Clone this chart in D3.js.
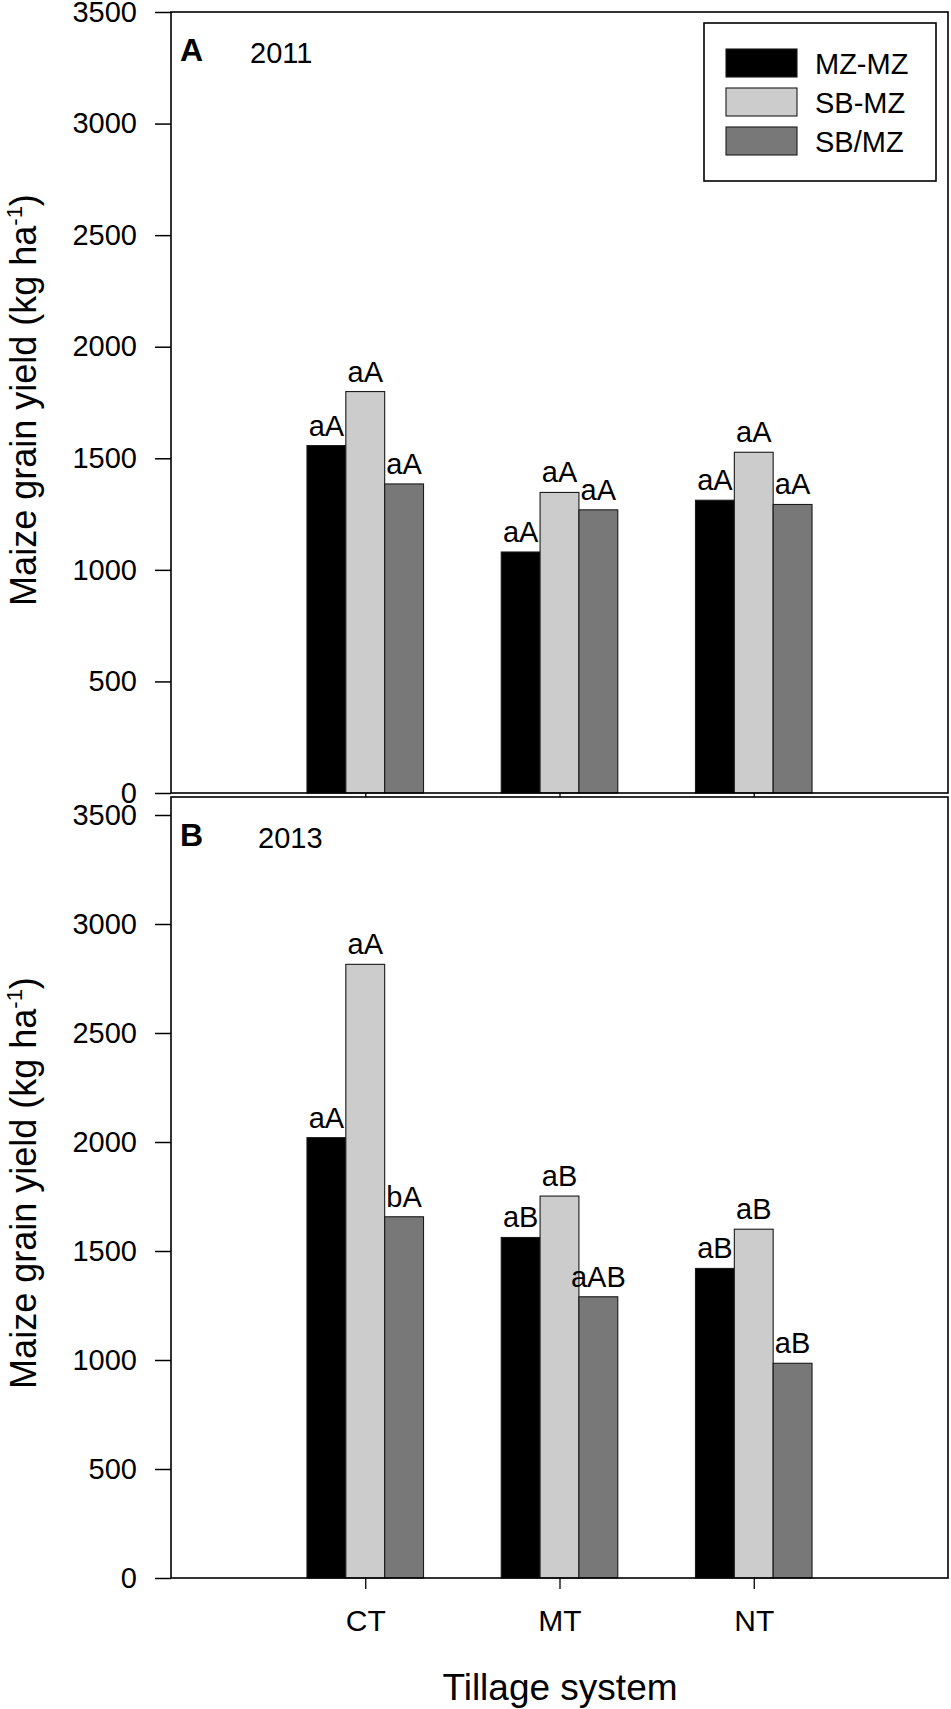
<!DOCTYPE html>
<html><head><meta charset="utf-8">
<script src="https://cdn.jsdelivr.net/npm/d3@7"></script>
<style>body{margin:0;background:#fff}svg{display:block;font-family:"Liberation Sans",Arial,Helvetica,sans-serif}</style>
</head><body><svg id="c" width="951" height="1709"></svg>
<script>
// ---- data ----
const categories = ["CT", "MT", "NT"];
const seriesNames = ["MZ-MZ", "SB-MZ", "SB/MZ"];
const seriesColors = ["#000000", "#cccccc", "#787878"];
const yTickValues = [0, 500, 1000, 1500, 2000, 2500, 3000, 3500];

const mzmz2011 = [1557, 1080, 1312];
const sbmz2011 = [1799, 1347, 1527];
const sbSlashMz2011 = [1385, 1269, 1293];
const letters2011_mzmz = ["aA", "aA", "aA"];
const letters2011_sbmz = ["aA", "aA", "aA"];
const letters2011_sbSlash = ["aA", "aA", "aA"];

const mzmz2013 = [2020, 1562, 1420];
const sbmz2013 = [2815, 1752, 1600];
const sbSlashMz2013 = [1657, 1290, 985];
const letters2013_mzmz = ["aA", "aB", "aB"];
const letters2013_sbmz = ["aA", "aB", "aB"];
const letters2013_sbSlash = ["bA", "aAB", "aB"];

// ---- layout ----
const svg = d3.select("#c");
const left = 171, right = 948;
const x = d3.scaleLinear().domain([0, 4]).range([left, right]);
const barW = x(0.2) - x(0);

const panels = [
  {letter: "A", year: "2011", frameTop: 12, yTop: 12, yBottom: 793,
   values: [mzmz2011, sbmz2011, sbSlashMz2011],
   letters: [letters2011_mzmz, letters2011_sbmz, letters2011_sbSlash],
   xLabels: false, legend: true, yearX: 250, titleY: 400},
  {letter: "B", year: "2013", frameTop: 797, yTop: 815, yBottom: 1578,
   values: [mzmz2013, sbmz2013, sbSlashMz2013],
   letters: [letters2013_mzmz, letters2013_sbmz, letters2013_sbSlash],
   xLabels: true, legend: false, yearX: 258, titleY: 1183}
];

panels.forEach(p => {
  const g = svg.append("g");
  const y = d3.scaleLinear().domain([0, 3500]).range([p.yBottom, p.yTop]);

  // bars
  p.values.forEach((vals, j) => {
    g.selectAll(null).data(vals).enter().append("rect")
      .attr("x", (d, i) => x(i + 1) + (j - 1.5) * barW)
      .attr("y", d => y(d))
      .attr("width", barW)
      .attr("height", d => y(0) - y(d))
      .attr("fill", seriesColors[j])
      .attr("stroke", "#1a1a1a")
      .attr("stroke-width", 1.1);
    g.selectAll(null).data(vals).enter().append("text")
      .attr("x", (d, i) => x(i + 1) + (j - 1) * barW)
      .attr("y", d => y(d) - 10)
      .attr("text-anchor", "middle")
      .attr("font-size", 29)
      .text((d, i) => p.letters[j][i]);
  });

  // y axis
  const ya = g.append("g").attr("transform", `translate(${left},0)`)
    .call(d3.axisLeft(y).tickValues(yTickValues).tickFormat(d3.format("d"))
      .tickSize(16).tickPadding(18));
  ya.select(".domain").remove();
  ya.selectAll(".tick line").attr("stroke", "#000").attr("stroke-width", 1.5);
  ya.selectAll(".tick text").attr("font-size", 29).attr("fill", "#000")
    .attr("font-family", "Liberation Sans, Arial, sans-serif");

  // frame
  g.append("rect").attr("x", left).attr("y", p.frameTop)
    .attr("width", right - left).attr("height", p.yBottom - p.frameTop)
    .attr("fill", "none").attr("stroke", "#000").attr("stroke-width", 1.6);

  // x axis ticks
  const xa = g.append("g").attr("transform", `translate(0,${p.yBottom})`)
    .call(d3.axisBottom(x).tickValues([1, 2, 3])
      .tickFormat(d => p.xLabels ? categories[d - 1] : "")
      .tickSize(p.xLabels ? 11 : 4).tickPadding(21));
  xa.select(".domain").remove();
  xa.selectAll(".tick line").attr("stroke", "#000").attr("stroke-width", 1.3);
  xa.selectAll(".tick text").attr("font-size", 30).attr("fill", "#000")
    .attr("font-family", "Liberation Sans, Arial, sans-serif");

  // panel letter and year
  g.append("text").attr("x", 180).attr("y", p.frameTop + 49)
    .attr("font-size", 32).attr("font-weight", "bold").text(p.letter);
  g.append("text").attr("x", p.yearX).attr("y", p.frameTop + 51)
    .attr("font-size", 29).text(p.year);

  // y title
  const t = g.append("text")
    .attr("transform", `translate(36,${p.titleY}) rotate(-90)`)
    .attr("text-anchor", "middle").attr("font-size", 36);
  t.append("tspan").text("Maize grain yield (kg ha");
  t.append("tspan").attr("font-size", 22).attr("dy", -14).text("-1");
  t.append("tspan").attr("dy", 14).text(")");

  // legend
  if (p.legend) {
    const lg = g.append("g");
    lg.append("rect").attr("x", 704).attr("y", 23).attr("width", 232).attr("height", 158)
      .attr("fill", "#fff").attr("stroke", "#000").attr("stroke-width", 1.6);
    seriesNames.forEach((s, j) => {
      lg.append("rect").attr("x", 726).attr("y", 49 + j * 39).attr("width", 71).attr("height", 28)
        .attr("fill", seriesColors[j]).attr("stroke", "#1a1a1a").attr("stroke-width", 1.1);
      lg.append("text").attr("x", 815).attr("y", 63 + j * 39 + 10.5)
        .attr("font-size", 29).text(s);
    });
  }
});

// x title
svg.append("text").attr("x", 560).attr("y", 1700).attr("text-anchor", "middle")
  .attr("font-size", 37).text("Tillage system");
</script>
</body></html>
